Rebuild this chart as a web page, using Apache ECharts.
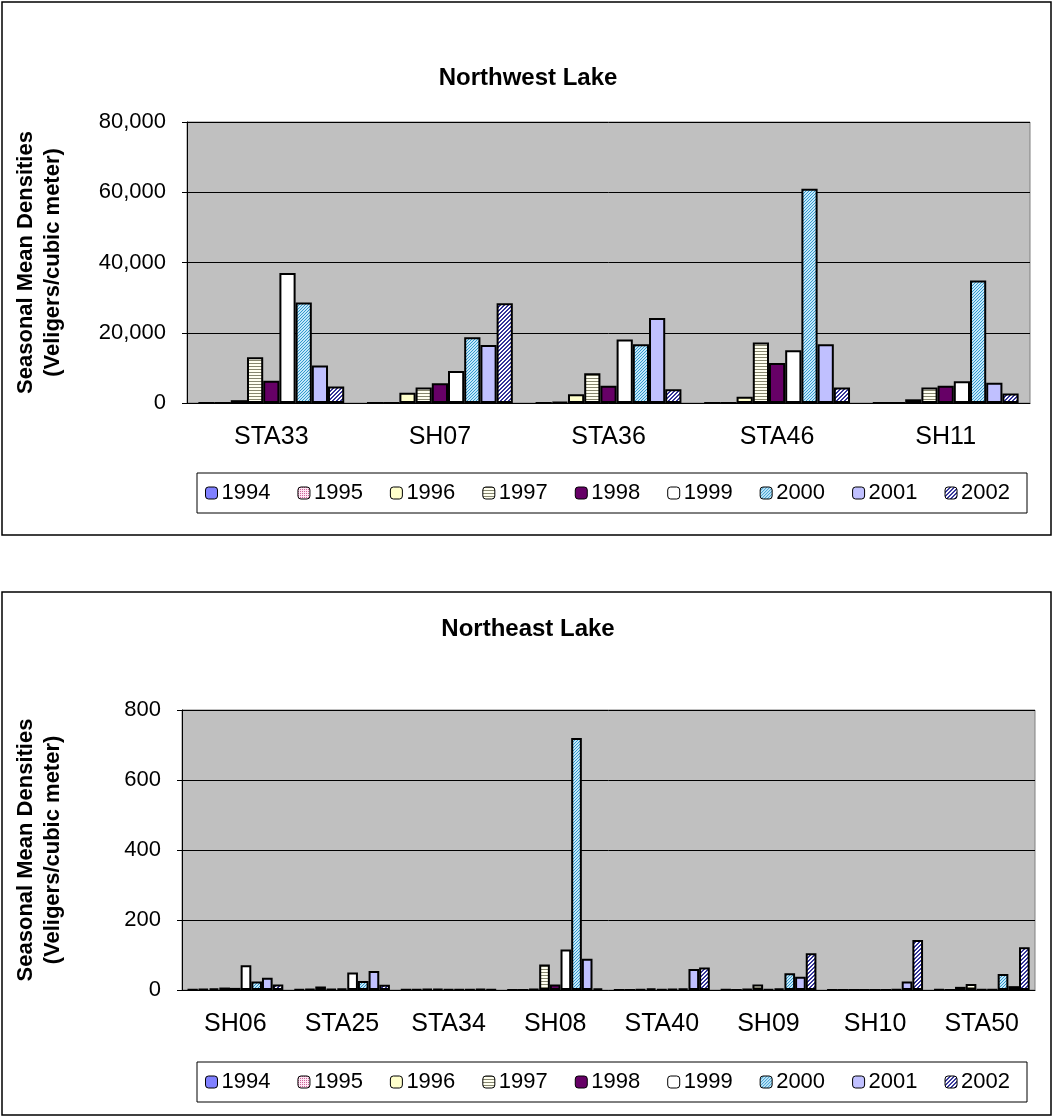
<!DOCTYPE html>
<html><head><meta charset="utf-8">
<script src="https://cdn.jsdelivr.net/npm/echarts@6/dist/echarts.min.js"></script>
<style>html,body{margin:0;padding:0;background:#fff}#c{width:1056px;height:1118px}</style>
</head><body><div id="c"></div>
<script>
// ---------- DATA ----------
const years = ['1994','1995','1996','1997','1998','1999','2000','2001','2002'];

const nwStations = ['STA33','SH07','STA36','STA46','SH11'];
const nw1994 = [0, 0, 0, 0, 0];
const nw1995 = [0, 0, 300, 0, 0];
const nw1996 = [800, 2950, 2500, 1800, 1050];
const nw1997 = [13000, 4400, 8500, 17200, 4400];
const nw1998 = [6300, 5600, 4900, 11400, 4900];
const nw1999 = [37000, 9100, 18100, 15000, 6200];
const nw2000 = [28600, 18700, 16700, 61000, 34900];
const nw2001 = [10700, 16500, 24200, 16700, 5800];
const nw2002 = [4700, 28400, 3900, 4400, 2700];
const nwTicks = [0, 20000, 40000, 60000, 80000];

const neStations = ['SH06','STA25','STA34','SH08','STA40','SH09','SH10','STA50'];
const ne1994 = [1, 2, 1, 0, 0, 1, 0, 2];
const ne1995 = [3, 3, 2, 0, 0, 0, 0, 0];
const ne1996 = [5, 10, 3, 3, 2, 3, 0, 9];
const ne1997 = [7, 3, 3, 73, 5, 16, 0, 17];
const ne1998 = [6, 4, 2, 16, 2, 2, 0, 2];
const ne1999 = [71, 50, 2, 116, 3, 4, 0, 1];
const ne2000 = [24, 26, 2, 720, 4, 48, 2, 46];
const ne2001 = [35, 54, 3, 89, 60, 38, 24, 11];
const ne2002 = [16, 15, 2, 5, 64, 105, 143, 122];
const neTicks = [0, 200, 400, 600, 800];

const nwData = [nw1994,nw1995,nw1996,nw1997,nw1998,nw1999,nw2000,nw2001,nw2002];
const neData = [ne1994,ne1995,ne1996,ne1997,ne1998,ne1999,ne2000,ne2001,ne2002];

// ---------- STYLE ----------
const FONT = 'Liberation Sans, Arial, sans-serif';
function pat(w, h, bg, fg, test) {
  const c = document.createElement('canvas');
  c.width = w; c.height = h;
  const g = c.getContext('2d');
  g.fillStyle = bg; g.fillRect(0, 0, w, h);
  g.fillStyle = fg;
  for (let y = 0; y < h; y++) for (let x = 0; x < w; x++) if (test(x, y)) g.fillRect(x, y, 1, 1);
  return { image: c, repeat: 'repeat' };
}
const fills = [
  '#8080FF',
  pat(4, 4, '#FFE6F4', '#CC6699', (x, y) => (x % 2 === 0 && y % 2 === 0)),
  '#FFFFCC',
  pat(4, 3, '#FFFFF0', '#86866E', (x, y) => y === 0),
  '#660066',
  '#FFFFFF',
  pat(3, 3, '#C4E8FA', '#3399CC', (x, y) => (x + y) % 3 === 0),
  '#C0C0FF',
  pat(4, 4, '#FFFFFF', '#333399', (x, y) => (x + y) % 4 < 2)
];
const fmt = v => String(v).replace(/\B(?=(\d{3})+(?!\d))/g, ',');

function makeSeries(data, idx) {
  return data.map((arr, i) => ({
    name: years[i], type: 'bar', xAxisIndex: idx, yAxisIndex: idx,
    data: arr, barGap: '0%', barCategoryGap: idx === 0 ? '13.5%' : '10%',
    itemStyle: { color: fills[i], borderColor: '#000', borderWidth: 2 },
    emphasis: { disabled: true }, animation: false
  }));
}

const grids = [
  { left: 187, top: 122, width: 843, height: 281 },
  { left: 182, top: 710, width: 853, height: 280 }
];

function xAxis(idx, cats) {
  return {
    type: 'category', gridIndex: idx, data: cats,
    axisLine: { lineStyle: { color: '#000', width: 1 } },
    axisTick: { length: 7, lineStyle: { color: '#000' } },
    axisLabel: { color: '#000', fontSize: 25, fontFamily: FONT, margin: 22 }
  };
}
function yAxis(idx, ticks, gap) {
  return {
    type: 'value', gridIndex: idx, min: ticks[0], max: ticks[ticks.length - 1],
    interval: ticks[1] - ticks[0],
    name: 'Seasonal Mean Densities\n(Veligers/cubic meter)',
    nameLocation: 'middle', nameGap: gap, nameRotate: 90,
    nameTextStyle: { color: '#000', fontSize: 22, fontWeight: 'bold', fontFamily: FONT, lineHeight: 27 },
    axisLine: { show: true, lineStyle: { color: '#000', width: 1 } },
    axisTick: { show: true, length: 5, lineStyle: { color: '#000' } },
    axisLabel: { color: '#000', fontSize: 22, fontFamily: FONT, margin: 21, formatter: fmt },
    splitLine: { show: true, lineStyle: { color: '#000', width: 1 } }
  };
}

const chart = echarts.init(document.getElementById('c'), null, { renderer: 'canvas' });
chart.setOption({
  backgroundColor: '#FFFFFF',
  animation: false,
  title: [
    { text: 'Northwest Lake', left: 'center', top: 61, textStyle: { fontSize: 24, fontWeight: 'bold', color: '#000', fontFamily: FONT } },
    { text: 'Northeast Lake', left: 'center', top: 612, textStyle: { fontSize: 24, fontWeight: 'bold', color: '#000', fontFamily: FONT } }
  ],
  legend: [
    { data: years, left: 205, top: 482, itemWidth: 12, itemHeight: 12, itemGap: 27, padding: 0,
      textStyle: { fontSize: 22, color: '#000', fontFamily: FONT, padding: [0, 0, 0, -1] },
      itemStyle: { borderColor: '#000', borderWidth: 1 }, selectedMode: false },
    { data: years, left: 205, top: 1071, itemWidth: 12, itemHeight: 12, itemGap: 27, padding: 0,
      textStyle: { fontSize: 22, color: '#000', fontFamily: FONT, padding: [0, 0, 0, -1] },
      itemStyle: { borderColor: '#000', borderWidth: 1 }, selectedMode: false }
  ],
  grid: grids.map(g => Object.assign({ show: true, backgroundColor: '#C0C0C0', borderColor: '#808080', borderWidth: 1 }, g)),
  xAxis: [xAxis(0, nwStations), xAxis(1, neStations)],
  yAxis: [yAxis(0, nwTicks, 121), yAxis(1, neTicks, 116)],
  series: makeSeries(nwData, 0).concat(makeSeries(neData, 1)),
  graphic: [
    { type: 'rect', shape: { x: 2, y: 2, width: 1049, height: 533 }, style: { fill: 'none', stroke: '#000', lineWidth: 1.5 }, silent: true, z: -1 },
    { type: 'rect', shape: { x: 2, y: 592, width: 1049, height: 523 }, style: { fill: 'none', stroke: '#000', lineWidth: 1.5 }, silent: true, z: -1 },
    { type: 'rect', shape: { x: 197, y: 473, width: 830, height: 40 }, style: { fill: 'none', stroke: '#000', lineWidth: 1 }, silent: true, z: -1 },
    { type: 'rect', shape: { x: 197, y: 1062, width: 830, height: 40 }, style: { fill: 'none', stroke: '#000', lineWidth: 1 }, silent: true, z: -1 }
  ]
});
</script></body></html>
